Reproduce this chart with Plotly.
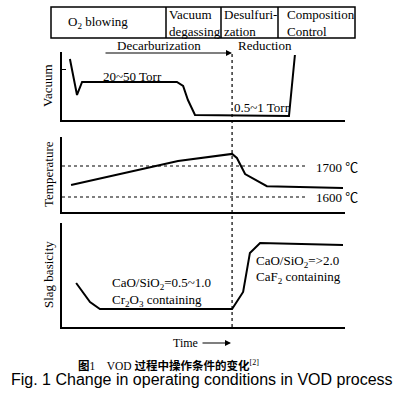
import plotly.graph_objects as go

W, H = 405, 406

# ---- data (time in arbitrary units 0..100) ----
vac_time = [2.8, 5.3, 7.1, 40.6, 42.8, 44.5, 47.0, 80.2, 82.3]
vac_level = [89.7, 36.8, 55.9, 55.9, 50.0, 29.4, 7.4, 5.9, 95.6]

temp_time = [3.2, 41.0, 60.1, 61.8, 64.7, 72.4, 99.3]
temp_value = [1639, 1716, 1739, 1726, 1674, 1635, 1629]
temp_refs = [1700, 1600]
temp_ref_labels = ["1700 ℃", "1600 ℃"]
ref_time = [0, 86.9]

slag_time = [5.0, 9.9, 13.4, 60.1, 64.0, 66.4, 70.0, 99.3]
slag_basicity = [42.3, 24.0, 17.3, 17.3, 33.7, 71.2, 80.8, 78.8]

switch_time = 60.1

stages = ["O<sub>2</sub> blowing", "Vacuum<br>degassing", "Desulfuri-<br>zation", "Composition<br>Control"]

SERIF = "Liberation Serif, Times New Roman, Noto Sans CJK SC"

def px(x):
    return x / W

def py(y):
    return 1 - y / H

fig = go.Figure()
line = dict(color="black", width=2)
fig.add_trace(go.Scatter(x=vac_time, y=vac_level, mode="lines", line=line, xaxis="x", yaxis="y"))
fig.add_trace(go.Scatter(x=temp_time, y=temp_value, mode="lines", line=line, xaxis="x2", yaxis="y2"))
for r in temp_refs:
    fig.add_trace(go.Scatter(x=ref_time, y=[r, r], mode="lines",
                             line=dict(color="black", width=1.2, dash="dot"), xaxis="x2", yaxis="y2"))
fig.add_trace(go.Scatter(x=slag_time, y=slag_basicity, mode="lines", line=line, xaxis="x3", yaxis="y3"))

xdom = [px(62), px(345)]
axstyle = dict(showline=True, linecolor="black", linewidth=1.8, showgrid=False, zeroline=False,
               showticklabels=False, ticks="")
layout = dict(
    width=W, height=H, margin=dict(l=0, r=0, t=0, b=0),
    paper_bgcolor="white", plot_bgcolor="white", showlegend=False,
    xaxis=dict(domain=xdom, range=[0, 100], anchor="y", **axstyle),
    yaxis=dict(domain=[py(120), py(52)], range=[0, 100], anchor="x",
               showline=True, linecolor="black", linewidth=1.8, showgrid=False, zeroline=False,
               showticklabels=False, ticks="inside", tickvals=[75], ticklen=4, tickcolor="black"),
    xaxis2=dict(domain=xdom, range=[0, 100], anchor="y2", **axstyle),
    yaxis2=dict(domain=[py(212), py(137)], range=[1551.6, 1793.5], anchor="x2", **axstyle),
    xaxis3=dict(domain=xdom, range=[0, 100], anchor="y3", **axstyle),
    yaxis3=dict(domain=[py(327), py(223)], range=[0, 100], anchor="x3", **axstyle),
)
fig.update_layout(**layout)

shapes = []
# stage table
shapes.append(dict(type="rect", xref="paper", yref="paper", x0=px(51), x1=px(355), y0=py(38), y1=py(7),
                   line=dict(color="black", width=1.5)))
for xd in [166, 221, 278]:
    shapes.append(dict(type="line", xref="paper", yref="paper", x0=px(xd), x1=px(xd), y0=py(38), y1=py(7),
                       line=dict(color="black", width=1.5)))
# vertical dotted switch line
shapes.append(dict(type="line", xref="x", yref="paper", x0=switch_time, x1=switch_time, y0=py(327), y1=py(53),
                   line=dict(color="black", width=1.2, dash="dot")))
fig.update_layout(shapes=shapes)

ann = []
def txt(x, y, s, size=13, xanchor="center", family=SERIF, angle=0):
    ann.append(dict(xref="paper", yref="paper", x=px(x), y=py(y), text=s, showarrow=False,
                    xanchor=xanchor, yanchor="middle", textangle=angle, align=xanchor if xanchor != "center" else "center",
                    font=dict(family=family, size=size, color="black")))

# table text
txt(98, 23, stages[0])
txt(167, 23, stages[1], xanchor="left")
txt(222, 23, stages[2], xanchor="left")
txt(285, 23, stages[3], xanchor="left")

# phase labels
txt(159, 46, "Decarburization")
txt(236, 46, "Reduction", xanchor="left")
ann.append(dict(xref="paper", yref="paper", x=px(232), y=py(53), ax=-128, ay=0,
                text="", showarrow=True, arrowhead=2, arrowsize=1,
                arrowwidth=1.2, arrowcolor="black"))

# panel annotations
txt(132, 76, "20~50 Torr")
txt(232, 107, "0.5~1 Torr", xanchor="left")
txt(314, 167, temp_ref_labels[0], xanchor="left")
txt(314, 198, temp_ref_labels[1], xanchor="left")
txt(110, 283, "CaO/SiO<sub>2</sub>=0.5~1.0", xanchor="left")
txt(110, 300, "Cr<sub>2</sub>O<sub>3</sub> containing", xanchor="left")
txt(254, 261, "CaO/SiO<sub>2</sub>=&gt;2.0", xanchor="left")
txt(254, 277, "CaF<sub>2</sub> containing", xanchor="left")

# axis titles
txt(48, 86, "Vacuum", angle=-90)
txt(48, 174, "Temperature", angle=-90)
txt(48, 275, "Slag basicity", angle=-90)

# time arrow
txt(185, 343, "Time", size=12)
ann.append(dict(xref="paper", yref="paper", x=px(231), y=py(343), ax=-30, ay=0,
                text="", showarrow=True, arrowhead=2, arrowsize=1,
                arrowwidth=1.2, arrowcolor="black"))

# captions
txt(76, 365, "<b>图</b>1&nbsp;&nbsp;&nbsp;&nbsp;VOD <b>过程中操作条件的变化</b><sup>[2]</sup>", size=11.5, xanchor="left")
txt(202, 379, "Fig. 1 Change in operating conditions in VOD process", size=16,
    family="Liberation Sans, Arial")

fig.update_layout(annotations=ann)
fig.write_html("out.html", config={"displayModeBar": False},
               post_script="document.body.style.margin='0';")
